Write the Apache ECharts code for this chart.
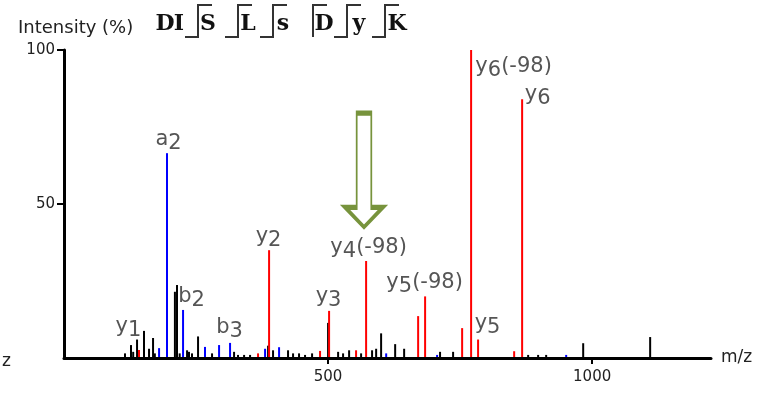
<!DOCTYPE html>
<html><head><meta charset="utf-8">
<script src="https://cdn.jsdelivr.net/npm/echarts@6/dist/echarts.min.js"></script>
<style>html,body{margin:0;padding:0;background:#fff}#c{width:759px;height:398px}</style>
</head><body><div id="c"></div>
<script>
// ---- data ----
const blackMz = [115.5,126.9,131,138.3,151.5,161,168.6,172,210,214,219,233,236.7,242.4,253.8,280.3,322,329.5,341,352.3,386.4,395.8,424.2,433.7,445,456.4,469.7,500,519,528.4,539.8,562.5,583.3,591,600.4,627,644,712,736.7,878.8,897.7,912.9,983,1109.8];
const blackInt = [1.5,4.2,2,6,8.8,3,6.5,1.5,21.5,23.7,1.5,2.5,2,1.5,7,1.5,2,1,1,1,4,2.5,2.5,1.5,1.5,1,1.5,11.4,2,1.5,2.5,1.5,2.5,3,8,4.5,3,2,2,1,1,1,4.8,6.8];
const blueMz = [180,195,225.4,267,293.6,314.4,380.7,407.2,610,706.4,950.8];
const blueInt = [3.2,66.5,15.6,3.6,4.2,4.9,3,3.5,1.5,1,1];
const redMz = [142,367.4,388.3,484.8,501.9,553,572,670.5,683.7,753.8,770.8,784,852.3,867.4];
const redInt = [2.6,1.5,35,2.3,15.3,2.5,31.5,13.6,20,9.7,100,6,2.2,84];
const labelNames = ['y1','a2','b2','b3','y2','y3','y4(-98)','y5(-98)','y5','y6(-98)','y6'];
const labelMz = [142,195,225.4,314.4,388.3,501.9,572,683.7,784,770.8,867.4];
const labelInt = [2.6,66.5,15.6,4.9,35,15.3,31.5,20,6,100,84];
const xTicks = [500,1000];
const yTicks = [50,100];
const sequence = ['D','I','S','L','s','D','y','K'];
const arrowAt = [568, 61];
// ---- styling / layout ----
const labelOffsets = [[-10,-19],[2,-9],[9,-9],[0,-11],[0,-9],[0,-10],[3,-9],[0,-9],[10,-11],[43,21],[16,0]];
const seqX = [165,179,208,248,283,324,359,397];
const brX = [198,238,273,313,347,385];
const brBottom = [true,true,true,false,true,true];

function zip(a,b){return a.map((v,i)=>[v,b[i]]);}
function stickSeries(name, mz, it, color){
  return {
    type:'custom', name, data: zip(mz,it), encode:{x:0,y:1}, z:2,
    renderItem:(params, api)=>{
      const p0 = api.coord([api.value(0),0]);
      const p1 = api.coord([api.value(0),api.value(1)]);
      return {type:'line', shape:{x1:p0[0],y1:p0[1],x2:p1[0],y2:p1[1]}, style:{stroke:color,lineWidth:2}};
    }
  };
}
function fmt(name){
  const m = name.match(/^([a-z])(\d+)(.*)$/);
  let s = '{l|'+m[1]+'}{d|'+m[2]+'}';
  if (m[3]) s += '{p|'+m[3]+'}';
  return s;
}
const labelData = labelNames.map((n,i)=>({
  value:[labelMz[i], labelInt[i]], name:n,
  label:{position:labelOffsets[i]}
}));

const graphics = [];
graphics.push({type:'text', left:18, top:19, style:{text:'Intensity (%)', font:'18px "DejaVu Sans"', fill:'#222'}});
graphics.push({type:'text', left:2, top:353, style:{text:'z', font:'17px "DejaVu Sans"', fill:'#222'}});
sequence.forEach((ch,i)=>{
  graphics.push({type:'text', x:seqX[i], y:24, style:{text:ch, font:'bold 22px "DejaVu Serif"', fill:'#111', align:'center', verticalAlign:'middle'}});
});
brX.forEach((x,i)=>{
  const pts = brBottom[i] ? [[x-13,37],[x,37],[x,5],[x+14,5]] : [[x,37],[x,5],[x+14,5]];
  graphics.push({type:'polyline', shape:{points:pts}, style:{stroke:'#333', lineWidth:2, fill:null}});
});

const chart = echarts.init(document.getElementById('c'), null, {renderer:'canvas'});
chart.setOption({
  animation:false,
  backgroundColor:'#fff',
  grid:{left:64, right:48, top:50, bottom:40, containLabel:false, outerBoundsMode:'none'},
  xAxis:{type:'value', min:0, max:1225, z:5,
    axisLine:{show:true, onZero:false, lineStyle:{color:'#000', width:3}},
    axisTick:{show:true, customValues:xTicks, length:6, lineStyle:{color:'#000', width:2}},
    axisLabel:{customValues:xTicks, formatter:v=>String(v), fontSize:15, color:'#222', margin:12, fontFamily:'DejaVu Sans'},
    splitLine:{show:false},
    name:'m/z', nameLocation:'end', nameGap:10,
    nameTextStyle:{fontSize:17, color:'#222', fontFamily:'DejaVu Sans'}
  },
  yAxis:{type:'value', min:0, max:100, interval:50, z:5,
    axisLine:{show:true, lineStyle:{color:'#000', width:3}},
    axisTick:{show:true, customValues:yTicks, length:7, lineStyle:{color:'#000', width:2}},
    axisLabel:{customValues:yTicks, fontSize:15, color:'#222', margin:9, fontFamily:'DejaVu Sans'},
    splitLine:{show:false}
  },
  graphic: graphics,
  series:[
    stickSeries('other', blackMz, blackInt, '#000'),
    stickSeries('b', blueMz, blueInt, '#0000ff'),
    stickSeries('y', redMz, redInt, '#ff0000'),
    {type:'scatter', name:'labels', data:labelData, symbolSize:1, itemStyle:{color:'rgba(0,0,0,0)'}, silent:true, z:4,
      label:{show:true, formatter:p=>fmt(p.name), align:'center', verticalAlign:'middle', color:'#2b2b2b',
        fontFamily:'DejaVu Sans',
        rich:{
          l:{fontSize:21, color:'#2b2b2b', fontFamily:'DejaVu Sans', padding:[0,0,8,0]},
          d:{fontSize:21, color:'#2b2b2b', fontFamily:'DejaVu Sans'},
          p:{fontSize:21, color:'#2b2b2b', fontFamily:'DejaVu Sans', padding:[0,0,8,0]}
        }
      },
      labelLayout:{hideOverlap:false},
      markPoint:{
        symbol:'path://M12 0 L27 0 L27 95 L39 95 L19.5 115 L0 95 L12 95 Z',
        symbolSize:[38,114], symbolKeepAspect:false, silent:true,
        itemStyle:{color:'rgba(255,255,255,0)', borderColor:'#77933C', borderWidth:3, borderJoin:'miter'},
        label:{show:false},
        data:[{coord:arrowAt}]
      }
    }
  ]
});
</script></body></html>
